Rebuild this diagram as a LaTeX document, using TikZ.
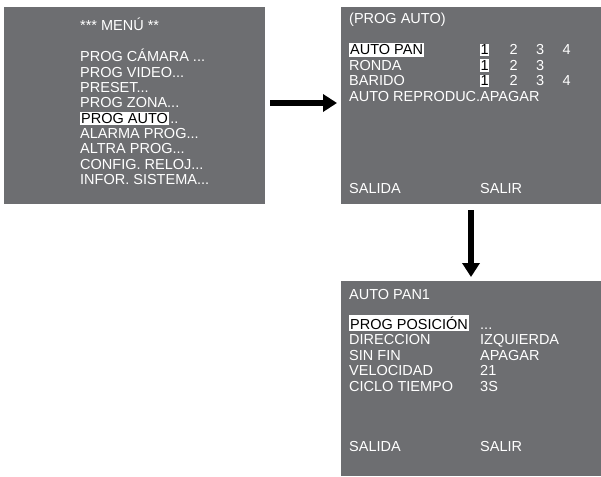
\documentclass[tikz,border=0pt]{standalone}
\usepackage{fontspec}
\setmainfont{Liberation Sans}
\usetikzlibrary{positioning, arrows.meta}
\definecolor{screenGray}{HTML}{6D6E71}
\newcommand{\mdots}{...}
\tikzstyle{screenBox} = [fill=screenGray, draw=none]
\tikzstyle{menuText} = [anchor=base west, inner sep=0pt, text=white, font=\fontsize{14.5}{15}\selectfont]
\tikzstyle{selText} = [menuText, fill=white, text=black, inner xsep=1pt, inner ysep=1.5pt]
\tikzstyle{bigArrow} = [line width=6pt, -{Triangle[length=14pt, width=17pt]}, draw=black]

\begin{document}
\begin{tikzpicture}[x=1pt, y=-1pt]
   \useasboundingbox (0,0) rectangle (601,476);
	% screens
	\fill[screenBox] (4,7) rectangle (265,204);
	\fill[screenBox] (341,7) rectangle (601,204);
	\fill[screenBox] (341,281) rectangle (601,476);

	% main menu
	\node (MenuTitle) at (80,31) [menuText] {*** MENÚ **};
	\foreach \txt [count=\i] in {{PROG CÁMARA \mdots},{PROG VIDEO\mdots},{PRESET\mdots},{PROG ZONA\mdots},{},{ALARMA PROG\mdots},{ALTRA PROG\mdots},{CONFIG. RELOJ\mdots},{INFOR. SISTEMA\mdots}}
		\node (Menu\i) at (80,{62+15.3*(\i-1)}) [menuText] {\txt};
	\node (MenuAuto) at (80,123.2) [selText] {PROG AUTO};
	\node (MenuDots) [menuText, anchor=base west] at ([xshift=1pt]MenuAuto.base east) {..};

	% prog auto
	\node (AutoTitle) at (349,24) [menuText] {(PROG AUTO)};
	\node (AutoPan) at (349,55) [selText] {AUTO PAN};
	\node (Ronda) at (349,70.5) [menuText] {RONDA};
	\node (Barido) at (349,86) [menuText] {BARIDO};
	\node (AutoRep) at (349,101.5) [menuText] {AUTO REPRODUC.};
	\foreach \y/\n in {55/4,70.5/3,86/4}{
		\node at (480,\y) [selText, inner xsep=0.5pt] {1};
		\foreach \k [count=\j] in {2,...,\n}
			\node at ({483+26.5*\j},\y) [menuText] {\k};
	}
	\node (AutoApagar) at (480,101.5) [menuText] {APAGAR};
	\node (AutoSalida) at (349,193) [menuText] {SALIDA};
	\node (AutoSalir) at (480,193) [menuText] {SALIR};

	% auto pan 1
	\node (PanTitle) at (349,299) [menuText] {AUTO PAN1};
	\node (PanPos) at (349,329) [selText] {PROG POSICIÓN};
	\node (PanDir) at (349,344.5) [menuText] {DIRECCION};
	\node (PanFin) at (349,360) [menuText] {SIN FIN};
	\node (PanVel) at (349,375.5) [menuText] {VELOCIDAD};
	\node (PanCiclo) at (349,391) [menuText] {CICLO TIEMPO};
	\node (ValPos) at (480,329) [menuText] {\mdots};
	\node (ValDir) at (480,344.5) [menuText] {IZQUIERDA};
	\node (ValFin) at (480,360) [menuText] {APAGAR};
	\node (ValVel) at (480,375.5) [menuText] {21};
	\node (ValCiclo) at (480,391) [menuText] {3S};
	\node (PanSalida) at (349,451) [menuText] {SALIDA};
	\node (PanSalir) at (480,451) [menuText] {SALIR};

	% arrows
	\coordinate (ArrowA) at (270,103);
	\coordinate (ArrowB) at (337,103);
	\draw [bigArrow] (ArrowA) -- (ArrowB);
	\coordinate (ArrowC) at (471,210);
	\coordinate (ArrowD) at (471,277);
	\draw [bigArrow] (ArrowC) -- (ArrowD);
\end{tikzpicture}
\end{document}
